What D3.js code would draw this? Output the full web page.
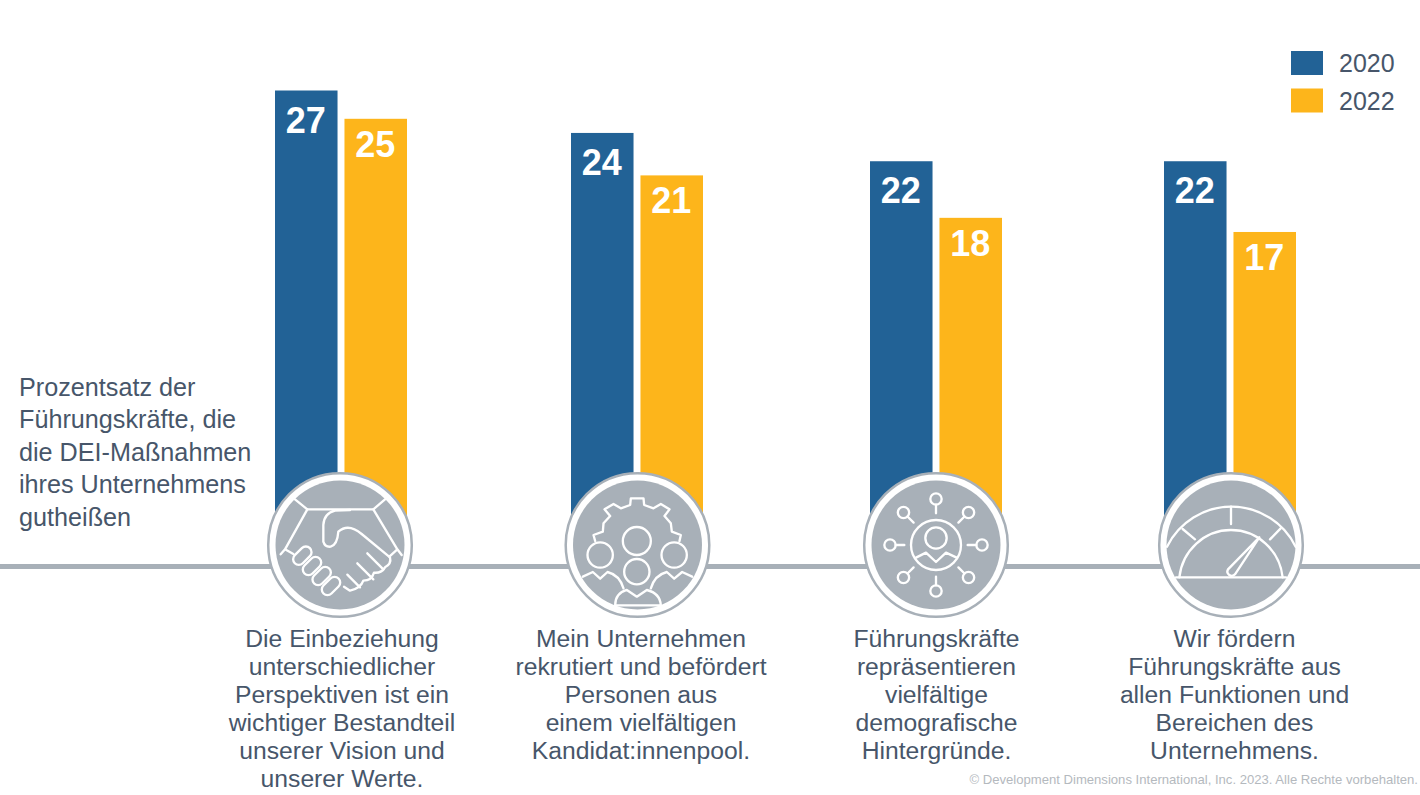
<!DOCTYPE html>
<html>
<head>
<meta charset="utf-8">
<script src="https://cdn.jsdelivr.net/npm/d3@7"></script>
<style>
  html, body { margin: 0; padding: 0; background: #fff; }
  svg { display: block; }
  text { font-family: "Liberation Sans", Arial, sans-serif; }
</style>
</head>
<body>
<div id="chart"></div>
<script>
const years = ["2020", "2022"];
const values2020 = [27, 24, 22, 22];
const values2022 = [25, 21, 18, 17];
const categories = ["inclusion", "recruiting", "leaders", "promotion"];
const categoryLines = [
    ["Die Einbeziehung", "unterschiedlicher", "Perspektiven ist ein", "wichtiger Bestandteil", "unserer Vision und", "unserer Werte."],
    ["Mein Unternehmen", "rekrutiert und befördert", "Personen aus", "einem vielfältigen", "Kandidat:innenpool."],
    ["Führungskräfte", "repräsentieren", "vielfältige", "demografische", "Hintergründe."],
    ["Wir fördern", "Führungskräfte aus", "allen Funktionen und", "Bereichen des", "Unternehmens."]
];
const sideLabel = ["Prozentsatz der", "Führungskräfte, die", "die DEI-Maßnahmen", "ihres Unternehmens", "gutheißen"];
const copyright = "© Development Dimensions International, Inc. 2023. Alle Rechte vorbehalten.";

const width = 1420, height = 795;
const textColor = "#47566a", gray = "#a8b0b8";
const colors = d3.scaleOrdinal().domain(years).range(["#226296", "#fdb51b"]);

// the groups are not evenly spaced in the original slide
const x = d3.scaleOrdinal().domain(categories).range([341, 637, 936, 1230]);
const iconX = d3.scaleOrdinal().domain(categories).range([340, 637.5, 936, 1231]);
const captionX = d3.scaleOrdinal().domain(categories).range([342, 641, 936.5, 1234.5]);
const y = d3.scaleLinear().domain([0, 27]).range([472.5, 90.5]);
const barX = d3.scaleBand().domain(years).range([-66, 66]).paddingInner(0.1);
const labelOffset = d3.scaleOrdinal().domain(years).range([42, 38]);
const barBottom = 540;   // bars run on behind the round icons
const lineY = 566.5;
const circleY = 545;

const svg = d3.select("#chart").append("svg")
    .attr("width", width)
    .attr("height", height);

// Bars and their value labels
const groups = svg.selectAll(".group")
    .data(categories)
    .enter()
    .append("g")
    .attr("class", "group")
    .attr("transform", d => `translate(${x(d)},0)`);

const bars = groups.selectAll(".bar")
    .data((d, i) => [
        { year: "2020", value: values2020[i] },
        { year: "2022", value: values2022[i] }
    ])
    .enter()
    .append("g")
    .attr("class", "bar");

bars.append("rect")
    .attr("x", d => barX(d.year))
    .attr("y", d => y(d.value))
    .attr("width", barX.bandwidth())
    .attr("height", d => barBottom - y(d.value))
    .attr("fill", d => colors(d.year));

bars.append("text")
    .attr("x", d => barX(d.year) + barX.bandwidth() / 2 - 0.5)
    .attr("y", d => y(d.value) + labelOffset(d.year))
    .attr("text-anchor", "middle")
    .attr("fill", "#fff")
    .style("font-size", "36px")
    .style("font-weight", "bold")
    .text(d => d.value);

// Horizontal rule behind the icons
svg.append("line")
    .attr("x1", 0).attr("x2", width)
    .attr("y1", lineY).attr("y2", lineY)
    .attr("stroke", gray)
    .attr("stroke-width", 5);

// Round icon badges, icon paths are in 3x units around the circle centre
const icons = svg.selectAll(".icon")
    .data(categories)
    .enter()
    .append("g")
    .attr("class", "icon")
    .attr("transform", d => `translate(${iconX(d)},${circleY})`);

icons.append("circle").attr("r", 71.8).attr("fill", "#fff").attr("stroke", gray).attr("stroke-width", 2.5);
icons.append("circle").attr("r", 64.5).attr("fill", gray);

const art = icons.append("g")
    .attr("transform", "scale(0.3333)")
    .attr("fill", "none")
    .attr("stroke", "#fff")
    .attr("stroke-width", 7)
    .attr("stroke-linecap", "round")
    .attr("stroke-linejoin", "round");

function handshake(g) {
    const p = g.append("g").attr("transform", "translate(-270,-255)");
    p.append("path").attr("d", "M135,118 L172,148 L370,148 L405,118");
    p.append("path").attr("d", "M172,148 L105,268 M92,283 L105,268 L130,282");
    p.append("path").attr("d", "M370,148 L442,268 M455,285 L442,268 L418,290");
    p.append("path").attr("d", "M300,150 L255,152 Q222,160 220,195 L220,245 Q225,262 242,260 Q262,255 265,215 Q295,188 335,222 L420,292 Q425,312 405,322 Q395,340 372,338 Q365,362 340,362 Q332,385 300,392 L282,380");
    p.append("path").attr("d", "M352,280 L400,328 M322,310 L370,358 M292,344 L330,382");
    [[157, 287], [186, 318], [215, 348], [243, 378]].forEach(c => {
        p.append("rect")
            .attr("x", c[0] - 32).attr("y", c[1] - 17)
            .attr("width", 64).attr("height", 34)
            .attr("rx", 17)
            .attr("fill", gray)
            .attr("transform", `rotate(-45 ${c[0]} ${c[1]})`);
    });
}

function gear(g) {
    const p = g.append("g").attr("transform", "translate(-1162,-255)");
    p.append("path").attr("d",
        "M1035,243 L1030,225 L1058,215 L1060,190 L1080,168 L1063,148 L1090,132 L1112,145 L1140,135 L1142,115 L1180,115 L1182,135 L1210,145 L1232,132 L1258,148 L1243,168 L1262,190 L1265,215 L1292,225 L1288,243");
    p.append("circle").attr("cx", 1160).attr("cy", 243).attr("r", 42);
    p.append("circle").attr("cx", 1050).attr("cy", 285).attr("r", 38);
    p.append("circle").attr("cx", 1272).attr("cy", 285).attr("r", 38);
    p.append("circle").attr("cx", 1160).attr("cy", 335).attr("r", 38);
    p.append("path").attr("d", "M998,350 L1028,336 L1050,356 L1072,336 Q1108,345 1120,385");
    p.append("path").attr("d", "M1326,350 L1296,336 L1272,356 L1250,336 Q1214,345 1202,385");
    p.append("path").attr("d", "M1095,436 Q1095,400 1130,390 L1160,410 L1190,390 Q1230,400 1232,436 Z");
}

function network(g) {
    const p = g.append("g").attr("transform", "translate(-258,-257)");
    p.append("circle").attr("cx", 258).attr("cy", 257).attr("r", 75);
    p.append("circle").attr("cx", 258).attr("cy", 236).attr("r", 32);
    p.append("path").attr("d", "M198,295 L228,280 L258,308 L288,280 L320,295");
    d3.range(8).forEach(i => {
        const a = i * Math.PI / 4;
        const cos = Math.cos(a), sin = Math.sin(a);
        p.append("circle").attr("cx", 258 + 138 * cos).attr("cy", 257 + 138 * sin).attr("r", 17);
        p.append("line")
            .attr("x1", 258 + 95 * cos).attr("y1", 257 + 95 * sin)
            .attr("x2", 258 + 121 * cos).attr("y2", 257 + 121 * sin);
    });
}

function gauge(g) {
    const p = g.append("g").attr("transform", "translate(-1143,-255)");
    p.append("path").attr("d", "M978,352 L1308,352");
    p.append("path").attr("d", "M988,352 A156,160 0 0 1 1298,352");
    p.append("path").attr("d", "M951,260 A215,215 0 0 1 1337,260");
    p.append("path").attr("d", "M1143,140 L1143,192 M998,207 L1035,238 M1292,205 L1260,238");
    p.append("path").attr("d", "M1228,232 L1155,343 A13,13 0 0 1 1134,328 Z");
}

[handshake, gear, network, gauge].forEach((draw, i) => {
    draw(art.filter((d, j) => j === i));
});

// Category captions
const captions = svg.selectAll(".caption")
    .data(categories)
    .enter()
    .append("text")
    .attr("class", "caption")
    .attr("text-anchor", "middle")
    .attr("fill", textColor)
    .style("font-size", "24.7px");

captions.selectAll("tspan")
    .data((d, i) => categoryLines[i].map(line => ({ line, cat: d })))
    .enter()
    .append("tspan")
    .attr("x", d => captionX(d.cat))
    .attr("y", (d, i) => 647 + i * 28)
    .text(d => d.line);

// Side label
svg.append("text")
    .attr("fill", textColor)
    .style("font-size", "25.2px")
    .selectAll("tspan")
    .data(sideLabel)
    .enter()
    .append("tspan")
    .attr("x", 19)
    .attr("y", (d, i) => 395.5 + i * 32.5)
    .text(d => d);

// Legend
const legend = svg.selectAll(".legend")
    .data(years)
    .enter()
    .append("g")
    .attr("class", "legend")
    .attr("transform", (d, i) => `translate(1291,${51 + i * 37.5})`);

legend.append("rect")
    .attr("width", 32)
    .attr("height", 24)
    .attr("fill", d => colors(d));

legend.append("text")
    .attr("x", 48)
    .attr("y", 21)
    .attr("fill", textColor)
    .style("font-size", "25px")
    .text(d => d);

svg.append("text")
    .attr("x", 1418)
    .attr("y", 784)
    .attr("text-anchor", "end")
    .attr("fill", "#b4b9be")
    .style("font-size", "13.1px")
    .text(copyright);
</script>
</body>
</html>
